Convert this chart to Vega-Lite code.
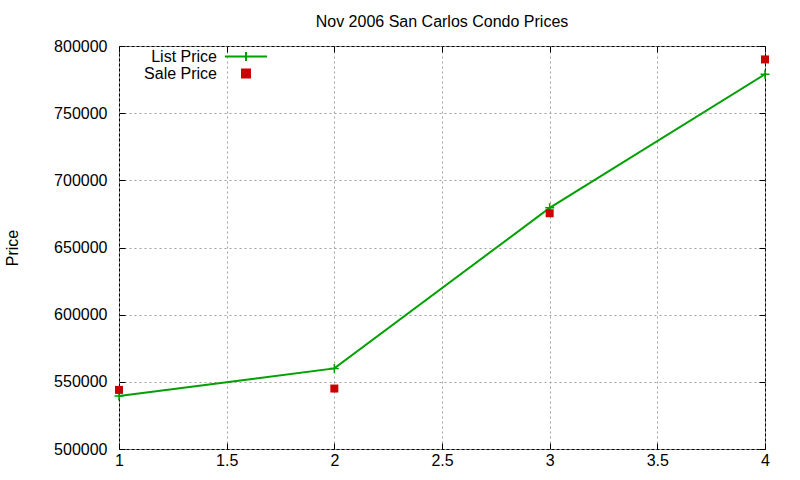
{
  "$schema": "https://vega.github.io/schema/vega-lite/v6.json",
  "width": 646,
  "height": 403,
  "autosize": "none",
  "padding": {"left": 119, "top": 46, "right": 35, "bottom": 31},
  "background": "white",
  "config": {
    "font": "Liberation Sans",
    "view": {"stroke": "black", "strokeWidth": 1},
    "axis": {
      "labelFont": "Liberation Sans",
      "labelFontSize": 16,
      "labelColor": "black",
      "titleFont": "Liberation Sans",
      "titleFontSize": 16,
      "titleFontWeight": "normal",
      "titleColor": "black",
      "domain": false,
      "tickColor": "black",
      "tickSize": -6,
      "labelFlush": false,
      "gridColor": "#a0a0a0",
      "gridDash": [2, 3],
      "gridOpacity": 1
    }
  },
  "title": {
    "text": "Nov 2006 San Carlos Condo Prices",
    "font": "Liberation Sans",
    "fontSize": 16,
    "fontWeight": "normal",
    "color": "black",
    "offset": 8
  },
  "data": {
    "values": [
      {"x": 1, "price": 539500, "series": "List Price"},
      {"x": 2, "price": 560000, "series": "List Price"},
      {"x": 3, "price": 679500, "series": "List Price"},
      {"x": 4, "price": 779000, "series": "List Price"},
      {"x": 1, "price": 544000, "series": "Sale Price"},
      {"x": 2, "price": 545000, "series": "Sale Price"},
      {"x": 3, "price": 675500, "series": "Sale Price"},
      {"x": 4, "price": 790000, "series": "Sale Price"}
    ]
  },
  "resolve": {"axis": {"x": "independent", "y": "independent"}},
  "layer": [
    {
      "transform": [{"filter": "datum.series === 'List Price'"}],
      "mark": {"type": "line", "strokeWidth": 2},
      "encoding": {
        "x": {"field": "x", "type": "quantitative", "scale": {"domain": [1, 4], "nice": false},
              "axis": {"title": null, "values": [1, 1.5, 2, 2.5, 3, 3.5, 4], "format": "~g", "grid": true, "labelPadding": 9}},
        "y": {"field": "price", "type": "quantitative", "scale": {"domain": [500000, 800000], "nice": false, "zero": false},
              "axis": {"title": "Price", "values": [500000, 550000, 600000, 650000, 700000, 750000, 800000], "format": "d", "grid": true, "labelPadding": 18, "titlePadding": 33}},
        "color": {
          "field": "series", "type": "nominal",
          "scale": {"domain": ["List Price", "Sale Price"], "range": ["#00a000", "#cc0000"]},
          "legend": {
            "title": null,
            "orient": "none",
            "legendX": 119,
            "legendY": 2.5,
            "padding": 0,
            "labelFont": "Liberation Sans",
            "labelFontSize": 16,
            "labelColor": "black",
            "labelAlign": "right",
            "labelOffset": -37,
            "symbolSize": 196,
            "symbolStrokeWidth": 2,
            "rowPadding": 0,
            "encode": {
              "symbols": {
                "update": {
                  "shape": [
                    {"test": "datum.value === 'List Price'", "value": "M-3,0H3M0,-0.64V0.64"},
                    {"value": "M-0.57,-0.57H0.57V0.57H-0.57Z"}
                  ],
                  "fill": [
                    {"test": "datum.value === 'List Price'", "value": "transparent"},
                    {"value": "#cc0000"}
                  ],
                  "stroke": [
                    {"test": "datum.value === 'List Price'", "value": "#00a000"},
                    {"value": "transparent"}
                  ],
                  "strokeWidth": {"value": 2},
                  "opacity": {"value": 1},
                  "size": {"value": 196}
                }
              }
            }
          }
        }
      }
    },
    {
      "transform": [{"filter": "datum.series === 'List Price'"}],
      "mark": {"type": "point", "shape": "M-1,0H1M0,-1V1", "size": 81, "filled": false, "strokeWidth": 1.5, "opacity": 1},
      "encoding": {
        "x": {"field": "x", "type": "quantitative", "axis": null},
        "y": {"field": "price", "type": "quantitative", "axis": null},
        "color": {"field": "series", "type": "nominal"}
      }
    },
    {
      "transform": [{"filter": "datum.series === 'Sale Price'"}],
      "mark": {"type": "point", "shape": "square", "size": 64, "filled": true, "opacity": 1},
      "encoding": {
        "x": {"field": "x", "type": "quantitative", "axis": null},
        "y": {"field": "price", "type": "quantitative", "axis": null},
        "color": {"field": "series", "type": "nominal"}
      }
    },
    {
      "mark": {"type": "point", "opacity": 0},
      "encoding": {
        "x": {"field": "x", "type": "quantitative",
              "axis": {"orient": "top", "title": null, "labels": false, "grid": false, "values": [1, 1.5, 2, 2.5, 3, 3.5, 4]}},
        "y": {"field": "price", "type": "quantitative",
              "axis": {"orient": "right", "title": null, "labels": false, "grid": false, "values": [500000, 550000, 600000, 650000, 700000, 750000, 800000]}}
      }
    }
  ]
}
